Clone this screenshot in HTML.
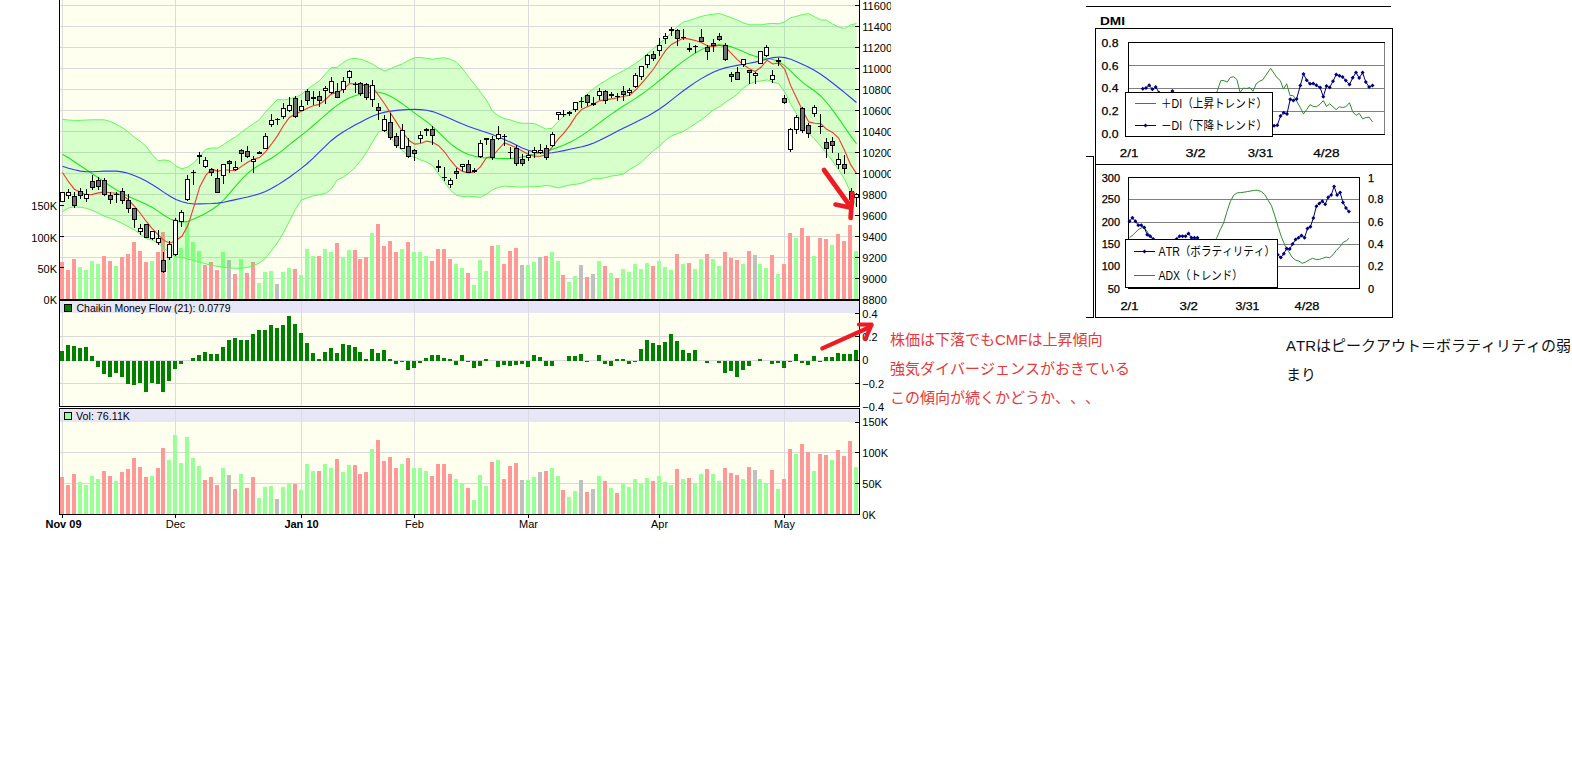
<!DOCTYPE html>
<html lang="ja"><head><meta charset="utf-8"><title>Chart</title>
<style>html,body{margin:0;padding:0;background:#fff;}body{width:1572px;height:768px;overflow:hidden;position:relative;}svg{position:absolute;left:0;top:0;display:block;}text{font-family:"Liberation Sans", sans-serif;font-size:11px;fill:#000;}.j{font-family:"Liberation Sans", "Noto Sans CJK JP", sans-serif;text-spacing-trim:space-all;font-kerning:none;font-feature-settings:"palt" 0,"halt" 0,"chws" 0;}.c{shape-rendering:crispEdges;}</style></head><body>
<svg width="1572" height="768" viewBox="0 0 1572 768">
<defs><clipPath id="cm"><rect x="60" y="0" width="799" height="299"/></clipPath><clipPath id="cc"><rect x="0" y="0" width="891" height="540"/></clipPath></defs>
<g clip-path="url(#cc)">
<g class="c">
<rect x="60" y="0" width="799" height="299" fill="#fffff0"/>
<rect x="60" y="301" width="799" height="105" fill="#fffff0"/>
<rect x="60" y="409" width="799" height="105" fill="#fffff0"/>
<rect x="60" y="301" width="799" height="12" fill="#e6e6f6"/>
<rect x="60" y="409" width="799" height="13" fill="#e6e6f6"/>
<path d="M60 5.5H859M60 26.5H859M60 47.5H859M60 68.5H859M60 89.5H859M60 110.5H859M60 131.5H859M60 152.5H859M60 173.5H859M60 194.5H859M60 215.5H859M60 236.5H859M60 257.5H859M60 278.5H859M60 336.5H859M60 360.5H859M60 383.5H859M60 452.5H859M60 483.5H859" stroke="#d9d9d9" stroke-width="1" fill="none"/>
<path d="M175.5 0V299M175.5 301V406M175.5 409V514M301.5 0V299M301.5 301V406M301.5 409V514M414.5 0V299M414.5 301V406M414.5 409V514M528.5 0V299M528.5 301V406M528.5 409V514M659.5 0V299M659.5 301V406M659.5 409V514M784.5 0V299M784.5 301V406M784.5 409V514M62.5 0V299M62.5 301V406M62.5 409V514" stroke="#dadae0" stroke-width="1" fill="none"/>
<path d="M60 262v37h4v-37zM60 477v37h4v-37zM66 270v29h4v-29zM66 485v29h4v-29zM72 259v40h4v-40zM72 474v40h4v-40zM102 256v43h4v-43zM102 471v43h4v-43zM108 261v38h4v-38zM108 476v38h4v-38zM120 257v42h4v-42zM120 472v42h4v-42zM126 254v45h4v-45zM126 469v45h4v-45zM132 242v57h4v-57zM132 458v56h4v-56zM138 251v48h4v-48zM138 467v47h4v-47zM144 262v37h4v-37zM144 477v37h4v-37zM156 252v47h4v-47zM156 468v46h4v-46zM161 232v67h4v-67zM161 448v66h4v-66zM203 265v34h4v-34zM203 480v34h4v-34zM209 262v37h4v-37zM209 477v37h4v-37zM215 270v29h4v-29zM215 485v29h4v-29zM233 274v25h4v-25zM233 489v25h4v-25zM245 273v26h4v-26zM245 488v26h4v-26zM251 262v37h4v-37zM251 477v37h4v-37zM293 269v30h4v-30zM293 484v30h4v-30zM317 256v43h4v-43zM317 471v43h4v-43zM335 243v56h4v-56zM335 459v55h4v-55zM353 250v49h4v-49zM353 465v49h4v-49zM358 259v40h4v-40zM358 474v40h4v-40zM364 257v42h4v-42zM364 472v42h4v-42zM376 224v75h4v-75zM376 440v74h4v-74zM382 246v53h4v-53zM382 461v53h4v-53zM388 241v58h4v-58zM388 457v57h4v-57zM394 252v47h4v-47zM394 468v46h4v-46zM406 242v57h4v-57zM406 458v56h4v-56zM430 261v38h4v-38zM430 476v38h4v-38zM436 249v50h4v-50zM436 464v50h4v-50zM442 249v50h4v-50zM442 464v50h4v-50zM448 259v40h4v-40zM448 474v40h4v-40zM466 273v26h4v-26zM466 488v26h4v-26zM490 246v53h4v-53zM490 462v52h4v-52zM502 264v35h4v-35zM502 479v35h4v-35zM508 251v48h4v-48zM508 466v48h4v-48zM514 248v51h4v-51zM514 463v51h4v-51zM544 256v43h4v-43zM544 471v43h4v-43zM561 275v24h4v-24zM561 490v24h4v-24zM585 277v22h4v-22zM585 492v22h4v-22zM603 266v33h4v-33zM603 481v33h4v-33zM615 278v21h4v-21zM615 493v21h4v-21zM651 266v33h4v-33zM651 481v33h4v-33zM675 254v45h4v-45zM675 469v45h4v-45zM687 263v36h4v-36zM687 478v36h4v-36zM705 254v45h4v-45zM705 469v45h4v-45zM723 252v47h4v-47zM723 468v46h4v-46zM729 258v41h4v-41zM729 473v41h4v-41zM735 260v39h4v-39zM735 475v39h4v-39zM747 251v48h4v-48zM747 467v47h4v-47zM770 255v44h4v-44zM770 470v44h4v-44zM782 264v35h4v-35zM782 479v35h4v-35zM788 233v66h4v-66zM788 449v65h4v-65zM800 228v71h4v-71zM800 444v70h4v-70zM806 236v63h4v-63zM806 452v62h4v-62zM818 238v61h4v-61zM818 454v60h4v-60zM824 239v60h4v-60zM824 455v59h4v-59zM836 234v65h4v-65zM836 450v64h4v-64zM842 241v58h4v-58zM842 456v58h4v-58zM848 225v74h4v-74zM848 441v73h4v-73z" fill="#ff9999"/>
<path d="M78 267v32h4v-32zM78 482v32h4v-32zM84 270v29h4v-29zM84 485v29h4v-29zM90 261v38h4v-38zM90 476v38h4v-38zM96 264v35h4v-35zM96 479v35h4v-35zM114 266v33h4v-33zM114 481v33h4v-33zM150 261v38h4v-38zM150 476v38h4v-38zM167 245v54h4v-54zM167 460v54h4v-54zM173 219v80h4v-80zM173 435v79h4v-79zM179 248v51h4v-51zM179 463v51h4v-51zM185 221v78h4v-78zM185 437v77h4v-77zM191 242v57h4v-57zM191 458v56h4v-56zM197 251v48h4v-48zM197 466v48h4v-48zM221 252v47h4v-47zM221 468v46h4v-46zM239 259v40h4v-40zM239 474v40h4v-40zM257 283v16h4v-16zM257 498v16h4v-16zM263 272v27h4v-27zM263 487v27h4v-27zM269 271v28h4v-28zM269 486v28h4v-28zM281 272v27h4v-27zM281 487v27h4v-27zM287 268v31h4v-31zM287 483v31h4v-31zM299 275v24h4v-24zM299 490v24h4v-24zM305 249v50h4v-50zM305 464v50h4v-50zM311 256v43h4v-43zM311 471v43h4v-43zM323 249v50h4v-50zM323 464v50h4v-50zM329 252v47h4v-47zM329 468v46h4v-46zM341 257v42h4v-42zM341 472v42h4v-42zM347 250v49h4v-49zM347 465v49h4v-49zM370 233v66h4v-66zM370 449v65h4v-65zM400 249v50h4v-50zM400 464v50h4v-50zM412 252v47h4v-47zM412 468v46h4v-46zM418 252v47h4v-47zM418 468v46h4v-46zM424 256v43h4v-43zM424 471v43h4v-43zM454 264v35h4v-35zM454 479v35h4v-35zM460 268v31h4v-31zM460 483v31h4v-31zM472 285v14h4v-14zM472 500v14h4v-14zM478 260v39h4v-39zM478 475v39h4v-39zM484 271v28h4v-28zM484 486v28h4v-28zM496 245v54h4v-54zM496 460v54h4v-54zM526 265v34h4v-34zM526 480v34h4v-34zM532 262v37h4v-37zM532 477v37h4v-37zM550 252v47h4v-47zM550 468v46h4v-46zM556 261v38h4v-38zM556 476v38h4v-38zM567 282v17h4v-17zM567 497v17h4v-17zM573 276v23h4v-23zM573 491v23h4v-23zM597 261v38h4v-38zM597 476v38h4v-38zM609 273v26h4v-26zM609 488v26h4v-26zM621 269v30h4v-30zM621 484v30h4v-30zM627 272v27h4v-27zM627 487v27h4v-27zM633 264v35h4v-35zM633 479v35h4v-35zM639 269v30h4v-30zM639 484v30h4v-30zM645 263v36h4v-36zM645 478v36h4v-36zM657 261v38h4v-38zM657 476v38h4v-38zM663 267v32h4v-32zM663 482v32h4v-32zM669 270v29h4v-29zM669 485v29h4v-29zM681 264v35h4v-35zM681 479v35h4v-35zM693 269v30h4v-30zM693 484v30h4v-30zM699 259v40h4v-40zM699 474v40h4v-40zM711 259v40h4v-40zM711 474v40h4v-40zM717 266v33h4v-33zM717 481v33h4v-33zM741 264v35h4v-35zM741 479v35h4v-35zM758 264v35h4v-35zM758 479v35h4v-35zM764 268v31h4v-31zM764 483v31h4v-31zM776 274v25h4v-25zM776 489v25h4v-25zM794 238v61h4v-61zM794 454v60h4v-60zM812 256v43h4v-43zM812 471v43h4v-43zM830 245v54h4v-54zM830 460v54h4v-54zM854 251v48h4v-48zM854 467v47h4v-47z" fill="#99ff99"/>
<path d="M227 260v39h4v-39zM227 475v39h4v-39zM275 284v15h4v-15zM275 499v15h4v-15zM520 265v34h4v-34zM520 480v34h4v-34zM538 257v42h4v-42zM538 472v42h4v-42zM579 265v34h4v-34zM579 480v34h4v-34zM591 274v25h4v-25zM591 489v25h4v-25zM753 255v44h4v-44zM753 470v44h4v-44z" fill="#c0c0c0"/>
<path d="M60 351h4v10h-4zM66 345h4v16h-4zM72 346h4v15h-4zM78 348h4v13h-4zM84 347h4v14h-4zM90 356h4v5h-4zM96 361h4v6h-4zM102 361h4v13h-4zM108 361h4v16h-4zM114 361h4v12h-4zM120 361h4v16h-4zM126 361h4v23h-4zM132 361h4v24h-4zM138 361h4v22h-4zM144 361h4v31h-4zM150 361h4v22h-4zM156 361h4v23h-4zM161 361h4v31h-4zM167 361h4v20h-4zM173 361h4v8h-4zM179 361h4v3h-4zM191 358h4v3h-4zM197 355h4v6h-4zM203 352h4v9h-4zM209 354h4v7h-4zM215 354h4v7h-4zM221 347h4v14h-4zM227 340h4v21h-4zM233 338h4v23h-4zM239 340h4v21h-4zM245 340h4v21h-4zM251 334h4v27h-4zM257 330h4v31h-4zM263 330h4v31h-4zM269 325h4v36h-4zM275 328h4v33h-4zM281 325h4v36h-4zM287 316h4v45h-4zM293 324h4v37h-4zM299 333h4v28h-4zM305 343h4v18h-4zM311 353h4v8h-4zM317 359h4v2h-4zM323 352h4v9h-4zM329 348h4v13h-4zM335 353h4v8h-4zM341 344h4v17h-4zM347 345h4v16h-4zM353 347h4v14h-4zM358 352h4v9h-4zM364 359h4v2h-4zM370 349h4v12h-4zM376 353h4v8h-4zM382 350h4v11h-4zM388 359h4v2h-4zM394 361h4v3h-4zM400 361h4v1h-4zM406 361h4v9h-4zM412 361h4v7h-4zM418 361h4v2h-4zM424 358h4v3h-4zM430 355h4v6h-4zM436 355h4v6h-4zM442 358h4v3h-4zM448 359h4v2h-4zM454 361h4v4h-4zM460 355h4v6h-4zM466 361h4v1h-4zM472 361h4v7h-4zM478 361h4v5h-4zM484 359h4v2h-4zM496 361h4v6h-4zM502 361h4v4h-4zM508 361h4v5h-4zM514 361h4v4h-4zM520 361h4v3h-4zM526 361h4v6h-4zM532 355h4v6h-4zM538 357h4v4h-4zM544 361h4v5h-4zM550 361h4v5h-4zM567 356h4v5h-4zM573 356h4v5h-4zM579 354h4v7h-4zM585 361h4v1h-4zM597 355h4v6h-4zM603 361h4v3h-4zM609 361h4v5h-4zM615 359h4v2h-4zM621 359h4v2h-4zM627 361h4v3h-4zM633 361h4v1h-4zM639 349h4v12h-4zM645 340h4v21h-4zM651 343h4v18h-4zM657 345h4v16h-4zM663 342h4v19h-4zM669 334h4v27h-4zM675 341h4v20h-4zM681 350h4v11h-4zM687 353h4v8h-4zM693 350h4v11h-4zM705 361h4v2h-4zM717 361h4v2h-4zM723 361h4v12h-4zM729 361h4v10h-4zM735 361h4v16h-4zM741 361h4v9h-4zM747 361h4v5h-4zM758 359h4v2h-4zM770 361h4v3h-4zM776 361h4v2h-4zM782 361h4v7h-4zM788 361h4v1h-4zM794 354h4v7h-4zM800 361h4v2h-4zM806 361h4v4h-4zM812 356h4v5h-4zM818 361h4v1h-4zM824 357h4v4h-4zM830 357h4v4h-4zM836 353h4v8h-4zM842 354h4v7h-4zM848 354h4v7h-4zM854 350h4v11h-4z" fill="#008000"/>
</g>
<g clip-path="url(#cm)">
<path d="M62.5 119.4 L68.5 120 L74.4 120.4 L80.4 120.4 L86.4 120 L92.3 119.8 L98.3 119.8 L104.3 119.8 L110.3 121.5 L116.2 124.2 L122.2 127.6 L128.2 131.8 L134.1 137.1 L140.1 141.2 L146.1 146.3 L152 154.4 L158 160.7 L164 160 L170 161 L175.9 166.1 L181.9 168.8 L187.9 167 L193.8 162.8 L199.8 156.3 L205.8 149.4 L211.7 148 L217.7 148.1 L223.7 144.5 L229.7 140.3 L235.6 136.8 L241.6 132 L247.6 127.8 L253.5 123.7 L259.5 119.4 L265.5 112.2 L271.4 105.8 L277.4 99.6 L283.4 100 L289.4 98.9 L295.3 97.4 L301.3 94.6 L307.3 89.3 L313.2 85.2 L319.2 81 L325.2 74.4 L331.1 67.7 L337.1 67.5 L343.1 62.7 L349.1 59.1 L355 58.4 L361 59.3 L367 61.5 L372.9 64.3 L378.9 68.3 L384.9 71 L390.8 68.6 L396.8 65.9 L402.8 63.7 L408.8 60.2 L414.7 57.7 L420.7 57.4 L426.7 58.4 L432.6 59.3 L438.6 58.3 L444.6 57.8 L450.5 59.3 L456.5 62.2 L462.5 68.7 L468.5 76.9 L474.4 84.1 L480.4 92.2 L486.4 100 L492.3 110.8 L498.3 115.8 L504.3 118.5 L510.2 119.9 L516.2 122 L522.2 123.3 L528.2 123.3 L534.1 123.5 L540.1 126.2 L546.1 129.1 L552 128.3 L558 121.6 L564 116 L569.9 112.1 L575.9 105.9 L581.9 99.2 L587.9 93.4 L593.8 88.3 L599.8 84.1 L605.8 80.6 L611.7 76.9 L617.7 73.7 L623.7 70.6 L629.6 67.2 L635.6 63.4 L641.6 58.9 L647.6 53.5 L653.5 48.4 L659.5 43.3 L665.5 38.9 L671.4 32.7 L677.4 26.6 L683.4 22 L689.4 20.5 L695.3 18.4 L701.3 16.4 L707.3 15 L713.2 14.3 L719.2 13.4 L725.2 15.5 L731.1 17.6 L737.1 20.1 L743.1 22.8 L749.1 24.8 L755 24.8 L761 24.8 L767 23.9 L772.9 23.4 L778.9 23.8 L784.9 21.7 L790.8 17.7 L796.8 16.2 L802.8 14.5 L808.8 13.7 L814.7 16.8 L820.7 19.8 L826.7 20.3 L832.6 24 L838.6 27.1 L844.6 28.4 L850.5 24.9 L856.5 23.5 L856.5 207 L850.5 192.1 L844.6 179.2 L838.6 169.8 L832.6 161.2 L826.7 153.4 L820.7 146.2 L814.7 139 L808.8 133.5 L802.8 123.4 L796.8 114.1 L790.8 104.5 L784.9 92.3 L778.9 83.8 L772.9 82 L767 79.9 L761 81 L755 81.6 L749.1 84.1 L743.1 88.2 L737.1 94.3 L731.1 98.5 L725.2 102.4 L719.2 106.9 L713.2 110 L707.3 115.1 L701.3 119.8 L695.3 123.6 L689.4 127.6 L683.4 131.5 L677.4 133.6 L671.4 136.1 L665.5 140.1 L659.5 146.3 L653.5 150.6 L647.6 156.2 L641.6 162 L635.6 166.2 L629.6 169.3 L623.7 174.1 L617.7 175.3 L611.7 176 L605.8 177.6 L599.8 178.7 L593.8 178.6 L587.9 180.7 L581.9 183.2 L575.9 184.3 L569.9 185 L564 186.4 L558 188 L552 186.2 L546.1 185.5 L540.1 186.4 L534.1 186.8 L528.2 186.9 L522.2 187.1 L516.2 186.9 L510.2 186.5 L504.3 186.1 L498.3 187.4 L492.3 189.8 L486.4 194.4 L480.4 197.3 L474.4 196.7 L468.5 196.3 L462.5 196.6 L456.5 195.3 L450.5 190.3 L444.6 182.2 L438.6 174 L432.6 165.5 L426.7 162.1 L420.7 160 L414.7 157.2 L408.8 156.3 L402.8 150.9 L396.8 145.5 L390.8 137.5 L384.9 130.6 L378.9 131.5 L372.9 141.3 L367 151.6 L361 160.3 L355 167.6 L349.1 172.9 L343.1 177.2 L337.1 180.1 L331.1 189.5 L325.2 193.6 L319.2 194.7 L313.2 195.8 L307.3 197.8 L301.3 200.3 L295.3 209.5 L289.4 221.3 L283.4 232.8 L277.4 242.8 L271.4 250.7 L265.5 258.4 L259.5 262.9 L253.5 265.7 L247.6 267.4 L241.6 268.3 L235.6 268.3 L229.7 267.9 L223.7 267.3 L217.7 266.4 L211.7 265.3 L205.8 263.9 L199.8 262.2 L193.8 260.5 L187.9 259 L181.9 257.6 L175.9 256.9 L170 253.9 L164 248 L158 243.2 L152 240.1 L146.1 238.6 L140.1 233.9 L134.1 229.8 L128.2 226.6 L122.2 223.5 L116.2 220.4 L110.3 218.3 L104.3 216.2 L98.3 213.1 L92.3 210.4 L86.4 208.3 L80.4 207.3 L74.4 206.9 L68.5 208 L62.5 211.7Z" fill="#00ff00" fill-opacity="0.16" stroke="none"/>
<path d="M62.5 119.4 L68.5 120 L74.4 120.4 L80.4 120.4 L86.4 120 L92.3 119.8 L98.3 119.8 L104.3 119.8 L110.3 121.5 L116.2 124.2 L122.2 127.6 L128.2 131.8 L134.1 137.1 L140.1 141.2 L146.1 146.3 L152 154.4 L158 160.7 L164 160 L170 161 L175.9 166.1 L181.9 168.8 L187.9 167 L193.8 162.8 L199.8 156.3 L205.8 149.4 L211.7 148 L217.7 148.1 L223.7 144.5 L229.7 140.3 L235.6 136.8 L241.6 132 L247.6 127.8 L253.5 123.7 L259.5 119.4 L265.5 112.2 L271.4 105.8 L277.4 99.6 L283.4 100 L289.4 98.9 L295.3 97.4 L301.3 94.6 L307.3 89.3 L313.2 85.2 L319.2 81 L325.2 74.4 L331.1 67.7 L337.1 67.5 L343.1 62.7 L349.1 59.1 L355 58.4 L361 59.3 L367 61.5 L372.9 64.3 L378.9 68.3 L384.9 71 L390.8 68.6 L396.8 65.9 L402.8 63.7 L408.8 60.2 L414.7 57.7 L420.7 57.4 L426.7 58.4 L432.6 59.3 L438.6 58.3 L444.6 57.8 L450.5 59.3 L456.5 62.2 L462.5 68.7 L468.5 76.9 L474.4 84.1 L480.4 92.2 L486.4 100 L492.3 110.8 L498.3 115.8 L504.3 118.5 L510.2 119.9 L516.2 122 L522.2 123.3 L528.2 123.3 L534.1 123.5 L540.1 126.2 L546.1 129.1 L552 128.3 L558 121.6 L564 116 L569.9 112.1 L575.9 105.9 L581.9 99.2 L587.9 93.4 L593.8 88.3 L599.8 84.1 L605.8 80.6 L611.7 76.9 L617.7 73.7 L623.7 70.6 L629.6 67.2 L635.6 63.4 L641.6 58.9 L647.6 53.5 L653.5 48.4 L659.5 43.3 L665.5 38.9 L671.4 32.7 L677.4 26.6 L683.4 22 L689.4 20.5 L695.3 18.4 L701.3 16.4 L707.3 15 L713.2 14.3 L719.2 13.4 L725.2 15.5 L731.1 17.6 L737.1 20.1 L743.1 22.8 L749.1 24.8 L755 24.8 L761 24.8 L767 23.9 L772.9 23.4 L778.9 23.8 L784.9 21.7 L790.8 17.7 L796.8 16.2 L802.8 14.5 L808.8 13.7 L814.7 16.8 L820.7 19.8 L826.7 20.3 L832.6 24 L838.6 27.1 L844.6 28.4 L850.5 24.9 L856.5 23.5" fill="none" stroke="#5cfa5c" stroke-width="1"/>
<path d="M62.5 211.7 L68.5 208 L74.4 206.9 L80.4 207.3 L86.4 208.3 L92.3 210.4 L98.3 213.1 L104.3 216.2 L110.3 218.3 L116.2 220.4 L122.2 223.5 L128.2 226.6 L134.1 229.8 L140.1 233.9 L146.1 238.6 L152 240.1 L158 243.2 L164 248 L170 253.9 L175.9 256.9 L181.9 257.6 L187.9 259 L193.8 260.5 L199.8 262.2 L205.8 263.9 L211.7 265.3 L217.7 266.4 L223.7 267.3 L229.7 267.9 L235.6 268.3 L241.6 268.3 L247.6 267.4 L253.5 265.7 L259.5 262.9 L265.5 258.4 L271.4 250.7 L277.4 242.8 L283.4 232.8 L289.4 221.3 L295.3 209.5 L301.3 200.3 L307.3 197.8 L313.2 195.8 L319.2 194.7 L325.2 193.6 L331.1 189.5 L337.1 180.1 L343.1 177.2 L349.1 172.9 L355 167.6 L361 160.3 L367 151.6 L372.9 141.3 L378.9 131.5 L384.9 130.6 L390.8 137.5 L396.8 145.5 L402.8 150.9 L408.8 156.3 L414.7 157.2 L420.7 160 L426.7 162.1 L432.6 165.5 L438.6 174 L444.6 182.2 L450.5 190.3 L456.5 195.3 L462.5 196.6 L468.5 196.3 L474.4 196.7 L480.4 197.3 L486.4 194.4 L492.3 189.8 L498.3 187.4 L504.3 186.1 L510.2 186.5 L516.2 186.9 L522.2 187.1 L528.2 186.9 L534.1 186.8 L540.1 186.4 L546.1 185.5 L552 186.2 L558 188 L564 186.4 L569.9 185 L575.9 184.3 L581.9 183.2 L587.9 180.7 L593.8 178.6 L599.8 178.7 L605.8 177.6 L611.7 176 L617.7 175.3 L623.7 174.1 L629.6 169.3 L635.6 166.2 L641.6 162 L647.6 156.2 L653.5 150.6 L659.5 146.3 L665.5 140.1 L671.4 136.1 L677.4 133.6 L683.4 131.5 L689.4 127.6 L695.3 123.6 L701.3 119.8 L707.3 115.1 L713.2 110 L719.2 106.9 L725.2 102.4 L731.1 98.5 L737.1 94.3 L743.1 88.2 L749.1 84.1 L755 81.6 L761 81 L767 79.9 L772.9 82 L778.9 83.8 L784.9 92.3 L790.8 104.5 L796.8 114.1 L802.8 123.4 L808.8 133.5 L814.7 139 L820.7 146.2 L826.7 153.4 L832.6 161.2 L838.6 169.8 L844.6 179.2 L850.5 192.1 L856.5 207" fill="none" stroke="#5cfa5c" stroke-width="1"/>
<path d="M62.5 154.2 L68.5 157.8 L74.4 161.7 L80.4 165.8 L86.4 169.8 L92.3 173.7 L98.3 177.7 L104.3 181.9 L110.3 186 L116.2 189.8 L122.2 193.2 L128.2 196.2 L134.1 199 L140.1 201.6 L146.1 204.3 L152 207.3 L158 211.1 L164 215.2 L170 218.9 L175.9 221.3 L181.9 222.1 L187.9 221.2 L193.8 219.1 L199.8 216.3 L205.8 213.3 L211.7 209.8 L217.7 205.5 L223.7 199.8 L229.7 193.1 L235.6 186.1 L241.6 179.4 L247.6 173.5 L253.5 168.7 L259.5 164.9 L265.5 161.5 L271.4 158.2 L277.4 154.3 L283.4 149.6 L289.4 144.7 L295.3 140 L301.3 135.4 L307.3 130.6 L313.2 125.5 L319.2 120.3 L325.2 115.1 L331.1 110 L337.1 105.3 L343.1 101.2 L349.1 98 L355 95.7 L361 93.9 L367 92.7 L372.9 92 L378.9 92.3 L384.9 93.8 L390.8 96.4 L396.8 100 L402.8 104.2 L408.8 108.7 L414.7 113.1 L420.7 117.4 L426.7 121.7 L432.6 126.6 L438.6 132.2 L444.6 138.2 L450.5 143.6 L456.5 148.2 L462.5 151.7 L468.5 154.4 L474.4 156.3 L480.4 157.4 L486.4 157.9 L492.3 158.1 L498.3 158.4 L504.3 158.6 L510.2 158.6 L516.2 158 L522.2 157 L528.2 155.7 L534.1 154.3 L540.1 152.9 L546.1 151.3 L552 149.4 L558 147.3 L564 145 L569.9 142.3 L575.9 139.1 L581.9 135.4 L587.9 131.4 L593.8 127.1 L599.8 122.7 L605.8 118.2 L611.7 113.9 L617.7 109.7 L623.7 105.7 L629.6 102.1 L635.6 98.4 L641.6 94.3 L647.6 89.9 L653.5 85.4 L659.5 80.5 L665.5 75.5 L671.4 70.5 L677.4 65.7 L683.4 61.2 L689.4 56.9 L695.3 53 L701.3 49.6 L707.3 47 L713.2 45.4 L719.2 44.8 L725.2 45.2 L731.1 46.7 L737.1 49 L743.1 51.6 L749.1 54.2 L755 56.3 L761 57.7 L767 58.5 L772.9 59.6 L778.9 61.8 L784.9 65.8 L790.8 71.2 L796.8 77.2 L802.8 82.6 L808.8 87 L814.7 91 L820.7 96 L826.7 102.5 L832.6 110.1 L838.6 118.4 L844.6 127.1 L850.5 135.6 L856.5 143.8" fill="none" stroke="#1ce41c" stroke-width="1.05"/>
<path d="M62.5 166.2 L68.5 168.2 L74.4 169.8 L80.4 171.1 L86.4 171.8 L92.3 171.8 L98.3 171.5 L104.3 171.1 L110.3 171 L116.2 171.1 L122.2 171.9 L128.2 173.3 L134.1 175.4 L140.1 178 L146.1 181 L152 184.5 L158 188.3 L164 192.4 L170 196.2 L175.9 199.4 L181.9 201.8 L187.9 203.3 L193.8 204 L199.8 203.9 L205.8 203.7 L211.7 203.5 L217.7 203.1 L223.7 202.2 L229.7 200.9 L235.6 199.6 L241.6 198.3 L247.6 197 L253.5 195.5 L259.5 193.7 L265.5 191.4 L271.4 188.5 L277.4 185.1 L283.4 181.3 L289.4 177.2 L295.3 172.9 L301.3 168.4 L307.3 163.5 L313.2 158.1 L319.2 152.2 L325.2 146.3 L331.1 140.7 L337.1 136 L343.1 132 L349.1 128.4 L355 125.1 L361 121.9 L367 118.8 L372.9 115.9 L378.9 113.7 L384.9 112.1 L390.8 111.1 L396.8 110.4 L402.8 109.9 L408.8 109.5 L414.7 109.4 L420.7 109.6 L426.7 110.2 L432.6 111.6 L438.6 113.7 L444.6 116.2 L450.5 118.8 L456.5 121.4 L462.5 124 L468.5 126.4 L474.4 128.6 L480.4 130.6 L486.4 132.5 L492.3 134.6 L498.3 136.9 L504.3 139.4 L510.2 142.1 L516.2 145 L522.2 147.9 L528.2 150.2 L534.1 151.9 L540.1 152.8 L546.1 153.1 L552 152.8 L558 151.8 L564 150.6 L569.9 149.3 L575.9 148 L581.9 146.7 L587.9 145.1 L593.8 143 L599.8 140.3 L605.8 137.3 L611.7 134.2 L617.7 131.1 L623.7 128.1 L629.6 125.2 L635.6 122.3 L641.6 119.3 L647.6 116.2 L653.5 112.8 L659.5 109 L665.5 104.7 L671.4 100.1 L677.4 95.4 L683.4 90.8 L689.4 86.5 L695.3 82.4 L701.3 78.6 L707.3 75.2 L713.2 72.3 L719.2 69.8 L725.2 67.9 L731.1 66.5 L737.1 65.4 L743.1 64.3 L749.1 63.3 L755 62.1 L761 60.6 L767 59 L772.9 57.6 L778.9 57 L784.9 57.6 L790.8 59.3 L796.8 61.7 L802.8 64.4 L808.8 67.3 L814.7 70.5 L820.7 74.3 L826.7 78.5 L832.6 83 L838.6 87.7 L844.6 92.6 L850.5 97.5 L856.5 102.5" fill="none" stroke="#3838f4" stroke-width="1.1"/>
<path d="M62.5 172.5 L68.5 181.7 L74.4 189.2 L80.4 192.3 L86.4 195 L92.3 194.4 L98.3 192.9 L104.3 191.9 L110.3 192.7 L116.2 193.3 L122.2 195.4 L128.2 199.5 L134.1 205.8 L140.1 213 L146.1 221.2 L152 228.4 L158 234.7 L164 240.4 L170 243.2 L175.9 240.5 L181.9 236.3 L187.9 225.5 L193.8 206.9 L199.8 186.7 L205.8 175.4 L211.7 169 L217.7 171.3 L223.7 169.8 L229.7 170.3 L235.6 170.5 L241.6 166.4 L247.6 162.3 L253.5 159.3 L259.5 157.6 L265.5 151.8 L271.4 144.2 L277.4 135.9 L283.4 125.7 L289.4 117.5 L295.3 114 L301.3 111.3 L307.3 108.2 L313.2 105.8 L319.2 104.4 L325.2 99.8 L331.1 94.1 L337.1 92.6 L343.1 89.6 L349.1 83.8 L355 83.8 L361 84.9 L367 85.9 L372.9 87.5 L378.9 95.7 L384.9 104.3 L390.8 113.6 L396.8 122.9 L402.8 132.3 L408.8 140.3 L414.7 144.1 L420.7 143.5 L426.7 141.1 L432.6 142.3 L438.6 145.7 L444.6 152 L450.5 160.2 L456.5 167.3 L462.5 171.4 L468.5 172.9 L474.4 172.1 L480.4 166.8 L486.4 157.8 L492.3 156.3 L498.3 149.5 L504.3 142.9 L510.2 145 L516.2 147.7 L522.2 150.9 L528.2 154.3 L534.1 156.2 L540.1 156.2 L546.1 154.7 L552 147.4 L558 139.3 L564 132.8 L569.9 125.4 L575.9 115.9 L581.9 109.2 L587.9 106.5 L593.8 104 L599.8 100.6 L605.8 99.9 L611.7 98.9 L617.7 97.8 L623.7 96.2 L629.6 95.2 L635.6 90 L641.6 83.3 L647.6 76.3 L653.5 69 L659.5 59.7 L665.5 50.7 L671.4 44.4 L677.4 41.3 L683.4 38 L689.4 39.1 L695.3 40.5 L701.3 42.6 L707.3 45.7 L713.2 46.6 L719.2 45.3 L725.2 46.8 L731.1 53.2 L737.1 59.4 L743.1 64.5 L749.1 68.6 L755 71.5 L761 67.3 L767 60.2 L772.9 64 L778.9 62.9 L784.9 69.5 L790.8 85.9 L796.8 98.6 L802.8 111 L808.8 121.9 L814.7 123.3 L820.7 123.6 L826.7 129.3 L832.6 132.4 L838.6 138.1 L844.6 150.5 L850.5 164.4 L856.5 173.6" fill="none" stroke="#fa3632" stroke-width="1.1"/>
</g>
<g class="c" clip-path="url(#cm)">
<path d="M62 192v10h1v-10zM68 189v10h1v-10zM74 192v16h1v-16zM80 188v11h1v-11zM86 189v13h1v-13zM92 175v15h1v-15zM98 177v13h1v-13zM104 178v18h1v-18zM110 192v12h1v-12zM116 192v11h1v-11zM122 188v16h1v-16zM128 194v19h1v-19zM134 208v20h1v-20zM140 224v11h1v-11zM146 224v14h1v-14zM152 231v9h1v-9zM158 230v15h1v-15zM163 252v21h1v-21zM169 241v19h1v-19zM175 218v38h1v-38zM181 210v17h1v-17zM187 175v26h1v-26zM193 170v15h1v-15zM199 152v12h1v-12zM205 157v11h1v-11zM211 168v8h1v-8zM217 169v24h1v-24zM223 164v20h1v-20zM229 160v13h1v-13zM235 161v10h1v-10zM241 149v13h1v-13zM247 146v12h1v-12zM253 156v17h1v-17zM259 151v3h1v-3zM265 133v16h1v-16zM271 114v13h1v-13zM277 118v7h1v-7zM283 103v16h1v-16zM289 97v15h1v-15zM295 96v22h1v-22zM301 100v11h1v-11zM307 89v16h1v-16zM313 91v14h1v-14zM319 91v16h1v-16zM325 86v18h1v-18zM331 77v17h1v-17zM337 83v15h1v-15zM343 77v16h1v-16zM349 70v13h1v-13zM355 82v11h1v-11zM360 82v14h1v-14zM366 83v17h1v-17zM372 80v27h1v-27zM378 103v17h1v-17zM384 115v17h1v-17zM390 113v27h1v-27zM396 133v15h1v-15zM402 124v25h1v-25zM408 138v20h1v-20zM414 149v12h1v-12zM420 131v12h1v-12zM426 128v8h1v-8zM432 126v19h1v-19zM438 160v12h1v-12zM444 167v14h1v-14zM450 178v10h1v-10zM456 168v11h1v-11zM462 164v7h1v-7zM468 160v13h1v-13zM474 168v5h1v-5zM480 140v18h1v-18zM486 138v7h1v-7zM492 136v24h1v-24zM498 126v14h1v-14zM504 134v12h1v-12zM510 147v12h1v-12zM516 145v21h1v-21zM522 154v12h1v-12zM528 151v10h1v-10zM534 147v11h1v-11zM540 144v10h1v-10zM546 145v15h1v-15zM552 132v15h1v-15zM558 112v8h1v-8zM563 110v7h1v-7zM569 111v5h1v-5zM575 102v10h1v-10zM581 97v11h1v-11zM587 94v12h1v-12zM593 97v9h1v-9zM599 88v12h1v-12zM605 90v14h1v-14zM611 92v6h1v-6zM617 93v8h1v-8zM623 86v15h1v-15zM629 88v8h1v-8zM635 73v15h1v-15zM641 66v14h1v-14zM647 54v14h1v-14zM653 51v10h1v-10zM659 38v18h1v-18zM665 33v11h1v-11zM671 27v9h1v-9zM677 29v17h1v-17zM683 29v11h1v-11zM689 43v9h1v-9zM695 45v8h1v-8zM701 29v13h1v-13zM707 45v15h1v-15zM713 39v13h1v-13zM719 33v8h1v-8zM725 43v18h1v-18zM731 72v10h1v-10zM737 67v13h1v-13zM743 59v8h1v-8zM749 70v14h1v-14zM755 72v12h1v-12zM760 51v13h1v-13zM766 45v12h1v-12zM772 70v13h1v-13zM778 58v8h1v-8zM784 95v9h1v-9zM790 128v24h1v-24zM796 115v19h1v-19zM802 107v26h1v-26zM808 123v15h1v-15zM814 105v12h1v-12zM820 114v20h1v-20zM826 138v20h1v-20zM832 137v16h1v-16zM838 153v16h1v-16zM844 155v19h1v-19zM851 188v17h1v-17zM856 193v14h1v-14z" fill="#000"/>
<path d="M114 194h5v1h-5zM191 172h5v1h-5zM257 152h5v2h-5zM275 119h5v1h-5zM311 97h5v2h-5zM353 84h5v1h-5zM424 129h5v2h-5zM436 166h5v2h-5zM442 177h5v1h-5zM484 138h5v2h-5zM502 136h5v1h-5zM508 152h5v1h-5zM561 114h5v1h-5zM567 112h5v2h-5zM579 101h5v1h-5zM591 103h5v2h-5zM609 94h5v2h-5zM615 96h5v1h-5zM669 29h5v2h-5zM681 37h5v1h-5zM693 46h5v1h-5zM776 60h5v2h-5zM818 126h5v1h-5z" fill="#000"/>
<path d="M60.5 192.5h4v9h-4zM66.5 192.5h4v3h-4zM84.5 194.5h4v4h-4zM138.5 228.5h4v3h-4zM150.5 231.5h4v7h-4zM156.5 238.5h4v4h-4zM167.5 244.5h4v13h-4zM173.5 220.5h4v34h-4zM179.5 212.5h4v9h-4zM185.5 179.5h4v20h-4zM203.5 160.5h4v6h-4zM221.5 164.5h4v11h-4zM233.5 167.5h4v2h-4zM251.5 159.5h4v2h-4zM263.5 136.5h4v12h-4zM269.5 120.5h4v4h-4zM281.5 108.5h4v8h-4zM287.5 105.5h4v5h-4zM299.5 106.5h4v4h-4zM323.5 88.5h4v2h-4zM329.5 81.5h4v11h-4zM341.5 81.5h4v8h-4zM347.5 71.5h4v6h-4zM370.5 85.5h4v14h-4zM382.5 119.5h4v11h-4zM400.5 130.5h4v18h-4zM418.5 135.5h4v3h-4zM448.5 180.5h4v4h-4zM460.5 164.5h4v2h-4zM478.5 143.5h4v13h-4zM496.5 134.5h4v4h-4zM526.5 155.5h4v2h-4zM532.5 150.5h4v2h-4zM538.5 150.5h4v2h-4zM550.5 134.5h4v11h-4zM556.5 112.5h4v2h-4zM573.5 102.5h4v7h-4zM597.5 91.5h4v4h-4zM627.5 90.5h4v2h-4zM633.5 75.5h4v11h-4zM639.5 66.5h4v10h-4zM645.5 55.5h4v9h-4zM657.5 45.5h4v5h-4zM663.5 36.5h4v2h-4zM741.5 59.5h4v5h-4zM753.5 73.5h4v2h-4zM758.5 51.5h4v12h-4zM764.5 47.5h4v8h-4zM770.5 75.5h4v4h-4zM788.5 129.5h4v20h-4zM794.5 117.5h4v12h-4zM812.5 107.5h4v6h-4zM836.5 159.5h4v5h-4zM854.5 194.5h4v3h-4z" fill="#fff" stroke="#000" stroke-width="1"/>
<path d="M72.5 196.5h4v9h-4zM78.5 191.5h4v4h-4zM90.5 181.5h4v6h-4zM96.5 180.5h4v6h-4zM102.5 180.5h4v14h-4zM108.5 195.5h4v4h-4zM120.5 191.5h4v9h-4zM126.5 200.5h4v8h-4zM132.5 208.5h4v11h-4zM144.5 224.5h4v13h-4zM161.5 260.5h4v11h-4zM197.5 155.5h4v1h-4zM209.5 169.5h4v3h-4zM215.5 178.5h4v14h-4zM227.5 161.5h4v2h-4zM239.5 150.5h4v3h-4zM245.5 151.5h4v5h-4zM293.5 98.5h4v18h-4zM305.5 91.5h4v9h-4zM317.5 96.5h4v4h-4zM335.5 91.5h4v6h-4zM358.5 83.5h4v10h-4zM364.5 84.5h4v13h-4zM376.5 107.5h4v3h-4zM388.5 122.5h4v15h-4zM394.5 136.5h4v9h-4zM406.5 146.5h4v10h-4zM412.5 150.5h4v3h-4zM430.5 129.5h4v6h-4zM454.5 171.5h4v2h-4zM466.5 164.5h4v8h-4zM472.5 170.5h4v1h-4zM490.5 139.5h4v18h-4zM514.5 148.5h4v15h-4zM520.5 159.5h4v4h-4zM544.5 148.5h4v9h-4zM585.5 95.5h4v7h-4zM603.5 91.5h4v9h-4zM621.5 91.5h4v3h-4zM651.5 54.5h4v4h-4zM675.5 30.5h4v8h-4zM687.5 48.5h4v1h-4zM699.5 37.5h4v4h-4zM705.5 47.5h4v4h-4zM711.5 43.5h4v2h-4zM717.5 36.5h4v3h-4zM723.5 45.5h4v14h-4zM729.5 74.5h4v2h-4zM735.5 72.5h4v7h-4zM747.5 70.5h4v2h-4zM782.5 98.5h4v4h-4zM800.5 108.5h4v22h-4zM806.5 125.5h4v8h-4zM824.5 142.5h4v6h-4zM830.5 141.5h4v4h-4zM842.5 164.5h4v4h-4zM849.5 191.5h4v8h-4z" fill="#707070" stroke="#000" stroke-width="1"/>
</g>
<g class="c">
<rect x="59" y="0" width="1" height="515" fill="#000"/>
<rect x="859" y="0" width="1" height="515" fill="#000"/>
<rect x="59" y="299" width="801" height="2" fill="#000"/>
<rect x="59" y="406" width="801" height="1" fill="#000"/>
<rect x="59" y="407" width="801" height="1" fill="#fff"/>
<rect x="59" y="408" width="801" height="1" fill="#000"/>
<rect x="59" y="514" width="801" height="1" fill="#000"/>
<path d="M855 5h4v1h-4zM855 26h4v1h-4zM855 47h4v1h-4zM855 68h4v1h-4zM855 89h4v1h-4zM855 110h4v1h-4zM855 131h4v1h-4zM855 152h4v1h-4zM855 173h4v1h-4zM855 194h4v1h-4zM855 215h4v1h-4zM855 236h4v1h-4zM855 257h4v1h-4zM855 278h4v1h-4zM855 299h4v1h-4zM60 205h4v1h-4zM60 236h4v1h-4zM60 267h4v1h-4zM855 313h4v1h-4zM855 336h4v1h-4zM855 360h4v1h-4zM855 383h4v1h-4zM855 422h4v1h-4zM855 452h4v1h-4zM855 483h4v1h-4zM175 515h1v3h-1zM301 515h1v3h-1zM414 515h1v3h-1zM528 515h1v3h-1zM659 515h1v3h-1zM784 515h1v3h-1zM62 515h1v3h-1z" fill="#000"/>
<rect x="64.5" y="304.5" width="7" height="7" fill="#008000" stroke="#000"/>
<rect x="64.5" y="412.5" width="7" height="7" fill="#99ff99" stroke="#000"/>
</g>
<text x="862.3" y="10">11600</text>
<text x="862.3" y="31">11400</text>
<text x="862.3" y="52">11200</text>
<text x="862.3" y="73">11000</text>
<text x="862.3" y="94">10800</text>
<text x="862.3" y="115">10600</text>
<text x="862.3" y="136">10400</text>
<text x="862.3" y="157">10200</text>
<text x="862.3" y="178">10000</text>
<text x="862.3" y="199">9800</text>
<text x="862.3" y="220">9600</text>
<text x="862.3" y="241">9400</text>
<text x="862.3" y="262">9200</text>
<text x="862.3" y="283">9000</text>
<text x="862.3" y="304">8800</text>
<text x="57" y="210" text-anchor="end">150K</text>
<text x="57" y="242" text-anchor="end">100K</text>
<text x="57" y="273" text-anchor="end">50K</text>
<text x="57" y="304" text-anchor="end">0K</text>
<text x="862.3" y="318">0.4</text>
<text x="862.3" y="341">0.2</text>
<text x="862.3" y="364">0</text>
<text x="862.3" y="388">−0.2</text>
<text x="862.3" y="411">−0.4</text>
<text x="862.3" y="426">150K</text>
<text x="862.3" y="457">100K</text>
<text x="862.3" y="488">50K</text>
<text x="862.3" y="519">0K</text>
<text x="76.5" y="312" textLength="154" lengthAdjust="spacingAndGlyphs">Chaikin Money Flow (21): 0.0779</text>
<text x="76" y="420" textLength="54" lengthAdjust="spacingAndGlyphs">Vol: 76.11K</text>
<text x="63.5" y="528" text-anchor="middle" font-weight="bold">Nov 09</text>
<text x="175.5" y="528" text-anchor="middle">Dec</text>
<text x="301.5" y="528" text-anchor="middle" font-weight="bold">Jan 10</text>
<text x="414.5" y="528" text-anchor="middle">Feb</text>
<text x="528.5" y="528" text-anchor="middle">Mar</text>
<text x="659.5" y="528" text-anchor="middle">Apr</text>
<text x="784.5" y="528" text-anchor="middle">May</text>
</g>
<g fill="none" stroke="#ed1c24" stroke-linecap="round" stroke-linejoin="round">
<path d="M824 170L850 206" stroke-width="4.7"/>
<path d="M835.4 204.5L850 207.5" stroke-width="4.4"/>
<path d="M852.5 193.3L850.6 218" stroke-width="4.7"/>
<path d="M822.3 348.4L869.5 327.2" stroke-width="4.3"/>
<path d="M859 324.5L871.6 324.7L865.4 339" stroke-width="4.2"/>
</g>
<g class="j">
<text class="j" x="890" y="345" style="font-size:15px;fill:#e83838">株価は下落でもCMFは上昇傾向</text>
<text class="j" x="890" y="374" style="font-size:15px;fill:#e83838">強気ダイバージェンスがおきている</text>
<text class="j" x="890" y="403" style="font-size:15px;fill:#e83838">この傾向が続くかどうか、、、</text>
<text class="j" x="1286" y="351" style="font-size:15px;fill:#111">ATRはピークアウト＝ボラティリティの弱</text>
<text class="j" x="1286" y="380" style="font-size:15px;fill:#111">まり</text>
</g>
<g class="c">
<rect x="1086" y="6" width="305" height="1" fill="#000"/>
<rect x="1095.5" y="28.5" width="297" height="136" fill="#fff" stroke="#000"/>
<rect x="1095.5" y="164.5" width="297" height="153" fill="#fff" stroke="#000"/>
<path d="M1086 156.5H1093.5V317.5H1086" fill="none" stroke="#000"/>
<path d="M1128 65.5H1385M1128 88.5H1385M1128 111.5H1385" stroke="#808080" fill="none"/>
<path d="M1128.5 134.5V42.5H1384.5" stroke="#000" fill="none"/><path d="M1384.5 42.5V134.5" stroke="#808080" fill="none"/><path d="M1128.5 134.5H1384.5" stroke="#000" fill="none"/>
<path d="M1128 199.5H1360M1128 222.5H1360M1128 244.5H1360M1128 266.5H1360" stroke="#808080" fill="none"/>
<rect x="1128.5" y="177.5" width="231" height="111" fill="none" stroke="#000"/>
</g>
<path d="M1214.3 98.9 L1217.5 90.3 L1220.8 80.6 L1224 80.6 L1227.2 82.1 L1230.4 77.4 L1233.7 76.7 L1236.9 79.5 L1240.1 92.4 L1243.3 88.1 L1246.6 88.5 L1249.8 87.5 L1253 91.3 L1256.2 83.8 L1259.5 81.2 L1262.7 79.9 L1265.9 75.2 L1270.6 68.3 L1273.9 73.1 L1277.1 77.8 L1280.3 80.6 L1283.5 89.2 L1286.7 83.8 L1290 95.6 L1293.2 95.6 L1296.6 101 L1300.3 107.5 L1303.5 113.9 L1306.7 109.6 L1310 104.7 L1313.2 106.4 L1316.4 106.8 L1320.1 104.2 L1323.3 100.6 L1326.5 106.4 L1329.7 103.8 L1333 106.8 L1336.2 109.6 L1339.4 106.8 L1342.6 107.5 L1345.8 106.8 L1349.5 102.7 L1352.7 111.8 L1356 115.4 L1359.2 113.3 L1362.6 118.8 L1365.8 117.6 L1369.1 117.1 L1372.5 121.9" fill="none" stroke="#2e8b2e" stroke-width="1"/>
<path d="M1142.8 88.8 L1146 88.1 L1149.2 85.3 L1152.4 89.2 L1155.7 87 L1158.9 92.4 L1162.1 94.6 L1165.3 96.7 L1168.5 94.6 L1172.4 90.9 L1175.6 96.7" fill="none" stroke="#000080" stroke-width="1"/>
<path d="M1142.8 86.8l2 2l-2 2l-2 -2zM1146 86.1l2 2l-2 2l-2 -2zM1149.2 83.3l2 2l-2 2l-2 -2zM1152.4 87.2l2 2l-2 2l-2 -2zM1155.7 85l2 2l-2 2l-2 -2zM1158.9 90.4l2 2l-2 2l-2 -2zM1162.1 92.6l2 2l-2 2l-2 -2zM1165.3 94.7l2 2l-2 2l-2 -2zM1168.5 92.6l2 2l-2 2l-2 -2zM1172.4 88.9l2 2l-2 2l-2 -2zM1175.6 94.7l2 2l-2 2l-2 -2z" fill="#000080"/>
<path d="M1270.8 126.8 L1274.1 125.7 L1277.3 125.3 L1280.5 116.1 L1283.7 112.8 L1287 113.9 L1290.2 99.3 L1293.4 100.6 L1296.6 98.9 L1300.3 85.5 L1303.5 74.1 L1306.7 80.2 L1310 83.8 L1313.2 83.4 L1316.4 85.3 L1320.1 87.5 L1323.3 96.7 L1326.5 86 L1329.7 87.5 L1333 81.2 L1336.2 74.6 L1339.4 75.7 L1342.6 76.9 L1345.8 80.6 L1349.5 84.5 L1352.7 77.8 L1356 72.4 L1359.2 78 L1362.6 72.6 L1365.8 82.1 L1369.1 87 L1372.5 85.5" fill="none" stroke="#000080" stroke-width="1"/>
<path d="M1270.8 124.8l2 2l-2 2l-2 -2zM1274.1 123.7l2 2l-2 2l-2 -2zM1277.3 123.3l2 2l-2 2l-2 -2zM1280.5 114.1l2 2l-2 2l-2 -2zM1283.7 110.8l2 2l-2 2l-2 -2zM1287 111.9l2 2l-2 2l-2 -2zM1290.2 97.3l2 2l-2 2l-2 -2zM1293.4 98.6l2 2l-2 2l-2 -2zM1296.6 96.9l2 2l-2 2l-2 -2zM1300.3 83.5l2 2l-2 2l-2 -2zM1303.5 72.1l2 2l-2 2l-2 -2zM1306.7 78.2l2 2l-2 2l-2 -2zM1310 81.8l2 2l-2 2l-2 -2zM1313.2 81.4l2 2l-2 2l-2 -2zM1316.4 83.3l2 2l-2 2l-2 -2zM1320.1 85.5l2 2l-2 2l-2 -2zM1323.3 94.7l2 2l-2 2l-2 -2zM1326.5 84l2 2l-2 2l-2 -2zM1329.7 85.5l2 2l-2 2l-2 -2zM1333 79.2l2 2l-2 2l-2 -2zM1336.2 72.6l2 2l-2 2l-2 -2zM1339.4 73.7l2 2l-2 2l-2 -2zM1342.6 74.9l2 2l-2 2l-2 -2zM1345.8 78.6l2 2l-2 2l-2 -2zM1349.5 82.5l2 2l-2 2l-2 -2zM1352.7 75.8l2 2l-2 2l-2 -2zM1356 70.4l2 2l-2 2l-2 -2zM1359.2 76l2 2l-2 2l-2 -2zM1362.6 70.6l2 2l-2 2l-2 -2zM1365.8 80.1l2 2l-2 2l-2 -2zM1369.1 85l2 2l-2 2l-2 -2zM1372.5 83.5l2 2l-2 2l-2 -2z" fill="#000080"/>
<path d="M1129.5 237.7 L1133.6 234.3 L1138.1 229.8 L1142 227.5 L1145 228.6 L1148.4 233.2 L1152.9 238.9 L1156.4 241.2" fill="none" stroke="#2e8b2e" stroke-width="1"/>
<path d="M1214.5 241.2 L1216.8 237.7 L1220.2 229.8 L1223.6 222.9 L1227 211.5 L1230.4 201.3 L1233.8 195.1 L1237.3 192.8 L1240.7 192.6 L1244.1 192.2 L1247.5 191.5 L1250.9 191 L1254.4 190.3 L1257.8 190.3 L1261.2 191.5 L1264.6 194.4 L1268 200.1 L1271.5 205.8 L1274.9 216.1 L1278.3 227.5 L1281.7 237.7 L1285.1 245.7 L1288.5 251.4 L1292 257.1 L1295.4 260.1 L1298.8 261 L1302.2 263.3 L1305.6 262.1 L1309.1 259.9 L1312.5 258.3 L1315.9 259.4 L1319.3 259.4 L1322.7 258.3 L1326.2 257.1 L1329.6 257.8 L1333 254.8 L1336.4 250.3 L1339.8 246.9 L1343.2 242.3 L1346.7 240.7 L1348.9 238.2" fill="none" stroke="#2e8b2e" stroke-width="1"/>
<path d="M1129.5 221.3 L1132.4 217.7 L1135.4 221.3 L1138.3 225.2 L1141.3 225.2 L1144.3 227.5 L1147.2 234.8 L1150.2 236.2 L1153.2 238.9 L1156.1 241.2" fill="none" stroke="#000080" stroke-width="1"/>
<path d="M1129.5 219.3l2 2l-2 2l-2 -2zM1132.4 215.7l2 2l-2 2l-2 -2zM1135.4 219.3l2 2l-2 2l-2 -2zM1138.3 223.2l2 2l-2 2l-2 -2zM1141.3 223.2l2 2l-2 2l-2 -2zM1144.3 225.5l2 2l-2 2l-2 -2zM1147.2 232.8l2 2l-2 2l-2 -2zM1150.2 234.2l2 2l-2 2l-2 -2zM1153.2 236.9l2 2l-2 2l-2 -2zM1156.1 239.2l2 2l-2 2l-2 -2z" fill="#000080"/>
<path d="M1176.6 238.9 L1179.6 236.2 L1182.6 236.2 L1185.5 236.2 L1188.5 233.6 L1191.5 237.7 L1194.4 237.7 L1197.4 237.7 L1200.3 241.2" fill="none" stroke="#000080" stroke-width="1"/>
<path d="M1176.6 236.9l2 2l-2 2l-2 -2zM1179.6 234.2l2 2l-2 2l-2 -2zM1182.6 234.2l2 2l-2 2l-2 -2zM1185.5 234.2l2 2l-2 2l-2 -2zM1188.5 231.6l2 2l-2 2l-2 -2zM1191.5 235.7l2 2l-2 2l-2 -2zM1194.4 235.7l2 2l-2 2l-2 -2zM1197.4 235.7l2 2l-2 2l-2 -2zM1200.3 239.2l2 2l-2 2l-2 -2z" fill="#000080"/>
<path d="M1274.9 252.6 L1277.8 254.8 L1280.8 257.6 L1283.8 253.7 L1286.7 248.5 L1289.7 249.1 L1292.6 244.1 L1295.6 239.6 L1298.6 237.7 L1301.5 235.5 L1304.5 237.7 L1307.5 228.6 L1310.4 226.8 L1313.4 217.9 L1316.4 206.3 L1319.3 203.6 L1322.3 201.3 L1325.2 204.2 L1328.2 197.2 L1331.2 195.1 L1334.1 186.5 L1337.1 195.1 L1340.1 192.6 L1343 202.4 L1346 208.1 L1348.9 211.5" fill="none" stroke="#000080" stroke-width="1"/>
<path d="M1274.9 250.6l2 2l-2 2l-2 -2zM1277.8 252.8l2 2l-2 2l-2 -2zM1280.8 255.6l2 2l-2 2l-2 -2zM1283.8 251.7l2 2l-2 2l-2 -2zM1286.7 246.5l2 2l-2 2l-2 -2zM1289.7 247.1l2 2l-2 2l-2 -2zM1292.6 242.1l2 2l-2 2l-2 -2zM1295.6 237.6l2 2l-2 2l-2 -2zM1298.6 235.7l2 2l-2 2l-2 -2zM1301.5 233.5l2 2l-2 2l-2 -2zM1304.5 235.7l2 2l-2 2l-2 -2zM1307.5 226.6l2 2l-2 2l-2 -2zM1310.4 224.8l2 2l-2 2l-2 -2zM1313.4 215.9l2 2l-2 2l-2 -2zM1316.4 204.3l2 2l-2 2l-2 -2zM1319.3 201.6l2 2l-2 2l-2 -2zM1322.3 199.3l2 2l-2 2l-2 -2zM1325.2 202.2l2 2l-2 2l-2 -2zM1328.2 195.2l2 2l-2 2l-2 -2zM1331.2 193.1l2 2l-2 2l-2 -2zM1334.1 184.5l2 2l-2 2l-2 -2zM1337.1 193.1l2 2l-2 2l-2 -2zM1340.1 190.6l2 2l-2 2l-2 -2zM1343 200.4l2 2l-2 2l-2 -2zM1346 206.1l2 2l-2 2l-2 -2zM1348.9 209.5l2 2l-2 2l-2 -2z" fill="#000080"/>
<g class="c">
<rect x="1125.5" y="92.5" width="147" height="44" fill="#fff" stroke="#000"/>
<rect x="1125.5" y="239.5" width="152" height="48" fill="#fff" stroke="#000"/>
<path d="M1135 103.5H1156" stroke="#2e8b2e" fill="none"/>
<path d="M1135 125.5H1156M1134 251.5H1155" stroke="#000080" fill="none"/>
<path d="M1134 275.5H1155" stroke="#2e8b2e" fill="none"/>
</g>
<path d="M1145.5 123.5l2 2l-2 2l-2 -2zM1144.5 249.5l2 2l-2 2l-2 -2z" fill="#000080"/>
<text x="1100" y="25" font-weight="bold" style="font-size:10.5px" textLength="25" lengthAdjust="spacingAndGlyphs">DMI</text>
<text x="1101.5" y="46.6" style="font-size:11px;stroke:#000;stroke-width:0.25px" textLength="17" lengthAdjust="spacingAndGlyphs">0.8</text>
<text x="1101.5" y="69.5" style="font-size:11px;stroke:#000;stroke-width:0.25px" textLength="17" lengthAdjust="spacingAndGlyphs">0.6</text>
<text x="1101.5" y="92.3" style="font-size:11px;stroke:#000;stroke-width:0.25px" textLength="17" lengthAdjust="spacingAndGlyphs">0.4</text>
<text x="1101.5" y="115.3" style="font-size:11px;stroke:#000;stroke-width:0.25px" textLength="17" lengthAdjust="spacingAndGlyphs">0.2</text>
<text x="1101.5" y="138.3" style="font-size:11px;stroke:#000;stroke-width:0.25px" textLength="17" lengthAdjust="spacingAndGlyphs">0.0</text>
<text x="1119.8" y="157" style="font-size:11px;stroke:#000;stroke-width:0.25px" textLength="18.5" lengthAdjust="spacingAndGlyphs">2/1</text>
<text x="1185.4" y="157" style="font-size:11px;stroke:#000;stroke-width:0.25px" textLength="20" lengthAdjust="spacingAndGlyphs">3/2</text>
<text x="1247.8" y="157" style="font-size:11px;stroke:#000;stroke-width:0.25px" textLength="25.5" lengthAdjust="spacingAndGlyphs">3/31</text>
<text x="1313.2" y="157" style="font-size:11px;stroke:#000;stroke-width:0.25px" textLength="26.5" lengthAdjust="spacingAndGlyphs">4/28</text>
<text x="1120" y="181.8" text-anchor="end" style="font-size:11px;stroke:#000;stroke-width:0.25px">300</text>
<text x="1120" y="203.2" text-anchor="end" style="font-size:11px;stroke:#000;stroke-width:0.25px">250</text>
<text x="1120" y="226.4" text-anchor="end" style="font-size:11px;stroke:#000;stroke-width:0.25px">200</text>
<text x="1120" y="248.1" text-anchor="end" style="font-size:11px;stroke:#000;stroke-width:0.25px">150</text>
<text x="1120" y="270.4" text-anchor="end" style="font-size:11px;stroke:#000;stroke-width:0.25px">100</text>
<text x="1120" y="293" text-anchor="end" style="font-size:11px;stroke:#000;stroke-width:0.25px">50</text>
<text x="1368" y="181.8" style="font-size:11px;stroke:#000;stroke-width:0.25px">1</text>
<text x="1368" y="203.2" style="font-size:11px;stroke:#000;stroke-width:0.25px">0.8</text>
<text x="1368" y="226.4" style="font-size:11px;stroke:#000;stroke-width:0.25px">0.6</text>
<text x="1368" y="248.1" style="font-size:11px;stroke:#000;stroke-width:0.25px">0.4</text>
<text x="1368" y="270.4" style="font-size:11px;stroke:#000;stroke-width:0.25px">0.2</text>
<text x="1368" y="293" style="font-size:11px;stroke:#000;stroke-width:0.25px">0</text>
<text x="1120.4" y="309.5" style="font-size:11px;stroke:#000;stroke-width:0.25px" textLength="18" lengthAdjust="spacingAndGlyphs">2/1</text>
<text x="1179.5" y="309.5" style="font-size:11px;stroke:#000;stroke-width:0.25px" textLength="18.5" lengthAdjust="spacingAndGlyphs">3/2</text>
<text x="1235.4" y="309.5" style="font-size:11px;stroke:#000;stroke-width:0.25px" textLength="24" lengthAdjust="spacingAndGlyphs">3/31</text>
<text x="1294.5" y="309.5" style="font-size:11px;stroke:#000;stroke-width:0.25px" textLength="25" lengthAdjust="spacingAndGlyphs">4/28</text>
<text class="j" x="1161" y="108" style="font-size:12px" textLength="106" lengthAdjust="spacingAndGlyphs">＋DI（上昇トレンド）</text>
<text class="j" x="1161" y="129.5" style="font-size:12px" textLength="106" lengthAdjust="spacingAndGlyphs">－DI（下降トレンド）</text>
<text class="j" x="1158.6" y="256" style="font-size:12px" textLength="116.5" lengthAdjust="spacingAndGlyphs">ATR（ボラティリティ）</text>
<text class="j" x="1158.6" y="279.5" style="font-size:12px" textLength="84" lengthAdjust="spacingAndGlyphs">ADX（トレンド）</text>
</svg></body></html>
